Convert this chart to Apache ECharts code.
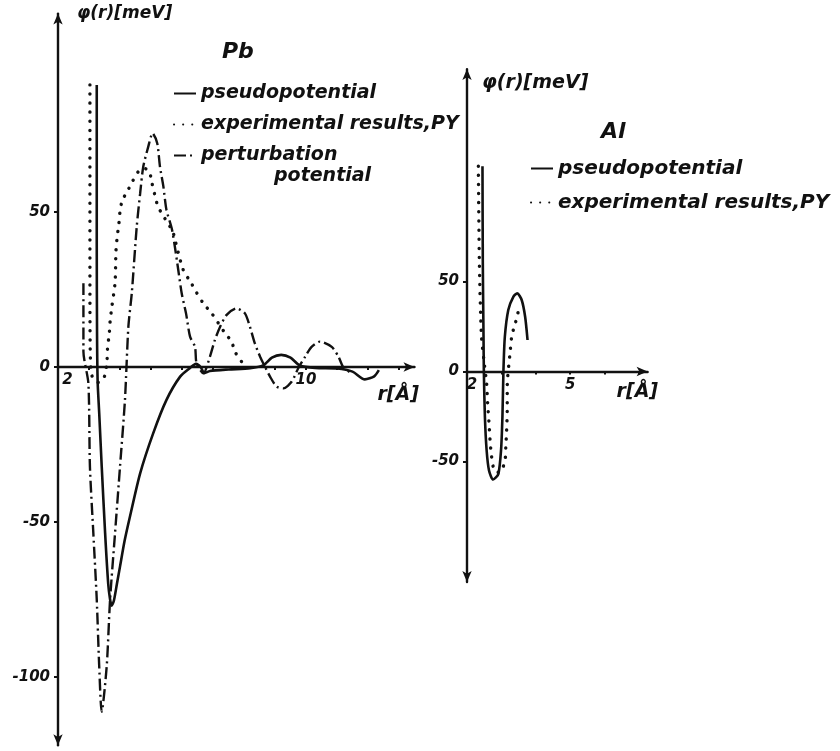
<!DOCTYPE html>
<html>
<head>
<meta charset="utf-8">
<script src="https://cdn.jsdelivr.net/npm/echarts@6/dist/echarts.min.js"></script>
<style>html,body{margin:0;padding:0;background:#fff}#c{width:840px;height:751px}</style>
</head>
<body>
<div id="c"></div>
<script>
// ---------- data (r in Å, φ in meV) ----------
const pbPseudo = [[3.25,91],[3.25,40],[3.26,10],[3.28,-5],[3.33,-15],[3.41,-32],[3.52,-53.6],[3.62,-70],[3.68,-75],[3.73,-77],[3.8,-75.5],[3.9,-70],[4.0,-64.4],[4.15,-56],[4.32,-48.3],[4.65,-34.3],[5.07,-21.4],[5.5,-10.6],[5.94,-3.1],[6.26,-0.3],[6.45,1],[6.6,0],[6.72,-2],[6.9,-1.3],[7.5,-0.8],[8.2,-0.4],[8.62,0.5],[8.9,3],[9.2,3.9],[9.5,3],[9.8,0.5],[10.3,-0.3],[11.0,-0.5],[11.5,-1.5],[11.9,-4],[12.2,-3],[12.35,-1]];
const pbExperiment = [[3.03,91],[3.03,60],[3.03,30],[3.04,5],[3.1,-3],[3.3,-5],[3.5,-3],[3.58,2],[3.6,6.5],[3.65,10.3],[3.68,14.6],[3.73,18.9],[3.84,27.2],[3.87,37.4],[3.91,42],[3.96,45.8],[4.0,50.1],[4.07,53.6],[4.27,57.3],[4.41,60],[4.59,63],[4.8,64],[4.94,63.3],[5.02,59.8],[5.11,56],[5.22,51.9],[5.38,49],[5.7,43.7],[5.83,38.8],[6.04,31.3],[6.29,27.2],[6.47,24],[6.69,20.5],[6.96,17.3],[7.39,10.9],[7.6,8.2],[7.71,4.9],[7.96,1.2]];
const pbPerturbation = [[2.82,27],[2.82,5],[2.98,-5.3],[3.03,-32.2],[3.14,-53.6],[3.25,-75],[3.33,-96.7],[3.41,-111.2],[3.57,-96.7],[3.68,-75],[3.84,-53.6],[4.0,-32.2],[4.16,-10.6],[4.27,13],[4.38,23.8],[4.54,45.3],[4.65,56],[4.75,64.6],[4.91,71],[5.05,75.4],[5.2,72.2],[5.29,64.6],[5.4,58.2],[5.5,50.6],[5.67,44.7],[5.77,38.8],[5.88,31.3],[5.99,23.8],[6.13,17.3],[6.26,9.8],[6.42,6.5],[6.47,1.2],[6.69,-2],[6.9,3.3],[7.06,8.7],[7.23,13],[7.44,16.8],[7.76,18.9],[8.03,17.3],[8.19,13],[8.35,7.6],[8.52,3.3],[8.62,1.2],[8.84,-3.1],[9.05,-6.3],[9.27,-6.9],[9.54,-4.7],[9.75,-0.4],[9.97,3.3],[10.18,6.5],[10.45,8.2],[10.83,6.5],[11.05,3.3],[11.2,0],[11.47,-2]];
const alPseudo = [[2.45,114],[2.46,60],[2.48,20],[2.49,0],[2.52,-25],[2.57,-43.6],[2.64,-55],[2.76,-60],[2.91,-57],[2.99,-43.6],[3.03,-25],[3.06,0.8],[3.10,19.3],[3.20,34.2],[3.35,41.6],[3.46,43.4],[3.59,39.7],[3.69,30.4],[3.76,17.5]];
const alExperiment = [[2.33,114],[2.36,60],[2.42,20],[2.5,5],[2.57,-6.6],[2.60,-17.5],[2.64,-28.6],[2.67,-38],[2.70,-45],[2.76,-52.9],[2.81,-55.6],[2.95,-56],[3.10,-50],[3.13,-40.8],[3.15,-33.4],[3.17,-21.4],[3.17,-10.3],[3.18,-3.8],[3.25,10.1],[3.30,19.3],[3.40,26.8],[3.47,30.4],[3.49,36]];
const pbYTicks = [-100,-50,0,50];
const pbXTicks = [3,4,5,6,7,8,9,10,11,12,13];
const pbXLabels = [2,10];
const alYTicks = [-50,0,50];
const alXTicks = [3,4,5,6,7];
const alXLabels = [2,5];
const names = ['pseudopotential','experimental results,PY','perturbation potential'];

// ---------- styles ----------
const INK = '#111';
const FONT = {fontFamily:'DejaVu Sans', fontWeight:'bold', fontStyle:'italic', color:INK};
const solid = {color:INK, width:2.6, type:'solid'};
const dotted = {color:INK, width:3.4, type:[0.1,9], cap:'round'};
const dashdot = {color:INK, width:2.4, type:[12,4,2,4]};

// grids: value ranges chosen so that the zero line sits where the original puts it
const pbGrid = {left:58, top:13.6, width:356.5, height:731.6, yMin:-122, yMax:114};
const alGrid = {left:467, top:69.1, width:180.6, height:513, yMin:-117, yMax:168};
function zeroOffset(g){ return -g.height * (0 - g.yMin) / (g.yMax - g.yMin); }

function xAx(gi, g, min, max, ticks, labels, shift, nameGap, namePad){
  return {type:'value', gridIndex:gi, min:min, max:max, position:'bottom', offset:zeroOffset(g),
    name:'r[Å]', nameLocation:'end', nameGap:nameGap,
    nameTextStyle:Object.assign({fontSize:19, align:'left', verticalAlign:'top', padding:[namePad,0,0,0]}, FONT),
    axisLine:{onZero:false, lineStyle:{color:INK, width:2.4}, symbol:['none','arrow'], symbolSize:[7,11]},
    axisTick:{show:true, customValues:ticks, length:3, lineStyle:{color:INK, width:2}},
    axisLabel:{customValues:labels, margin:6, formatter:function(v){return v===2?'{l|2}':String(v);},
      rich:{l:Object.assign({fontSize:15, padding:[0,0,0,shift]}, FONT)}, fontSize:15, fontFamily:FONT.fontFamily, fontWeight:'bold', fontStyle:'italic', color:INK},
    splitLine:{show:false}};
}
function yAx(gi, g, ticks, nameGap, namePad, nameSize){
  return {type:'value', gridIndex:gi, min:g.yMin, max:g.yMax, name:'φ(r)[meV]', nameLocation:'end', nameGap:nameGap,
    nameTextStyle:Object.assign({fontSize:nameSize, align:'left', verticalAlign:'middle', padding:[0,0,0,namePad]}, FONT),
    axisLine:{lineStyle:{color:INK, width:2.4}, symbol:['arrow','arrow'], symbolSize:[7,11]},
    axisTick:{show:true, customValues:ticks, length:4, lineStyle:{color:INK, width:2}},
    axisLabel:Object.assign({customValues:ticks, margin:8, fontSize:15}, FONT),
    splitLine:{show:false}};
}
function ser(name, data, style, xi){
  return {type:'line', name:name, data:data, xAxisIndex:xi, yAxisIndex:xi, symbol:'none', showSymbol:false,
    smooth:0.25, lineStyle:style, itemStyle:{color:INK}, z:3, animation:false};
}
const legendText = Object.assign({fontSize:19, lineHeight:21}, FONT);
const hiddenSymbol = {color:'rgba(0,0,0,0)', borderColor:'rgba(0,0,0,0)', borderWidth:0, opacity:0};

const chart = echarts.init(document.getElementById('c'), null, {renderer:'canvas'});
chart.setOption({
  backgroundColor:'#fff',
  animation:false,
  title:[
    {text:'Pb', left:217, top:36, textStyle:Object.assign({fontSize:22}, FONT)},
    {text:'Al', left:596, top:116, textStyle:Object.assign({fontSize:22}, FONT)}
  ],
  legend:[
    {orient:'vertical', left:173, top:83, itemWidth:22, itemHeight:14, itemGap:10, padding:0,
     itemStyle:hiddenSymbol,
     data:[names[0], names[1], {name:names[2], textStyle:{padding:[0,0,-21,0]}}],
     formatter:function(n){return n===names[2]?'{a|perturbation}\n{b|potential}':n;},
     textStyle:Object.assign({}, legendText, {rich:{a:Object.assign({fontSize:19, lineHeight:21}, FONT), b:Object.assign({fontSize:19, lineHeight:21, padding:[0,0,0,73]}, FONT)}}),
     selectedMode:false},
    {orient:'vertical', left:530, top:158, itemWidth:22, itemHeight:14, itemGap:13, padding:0,
     itemStyle:hiddenSymbol,
     data:[names[0], names[1]],
     textStyle:Object.assign({}, legendText, {fontSize:20}),
     selectedMode:false}
  ],
  grid:[
    {left:pbGrid.left, top:pbGrid.top, width:pbGrid.width, height:pbGrid.height},
    {left:alGrid.left, top:alGrid.top, width:alGrid.width, height:alGrid.height}
  ],
  xAxis:[
    xAx(0, pbGrid, 2, 13.5, pbXTicks, pbXLabels, 19, -37, 19),
    xAx(1, alGrid, 2, 7.25, alXTicks, alXLabels, 10, -31, 11)
  ],
  yAxis:[
    yAx(0, pbGrid, pbYTicks, 0, 19, 17),
    yAx(1, alGrid, alYTicks, -14, 15, 19)
  ],
  series:[
    ser(names[0], pbPseudo, solid, 0),
    ser(names[1], pbExperiment, dotted, 0),
    ser(names[2], pbPerturbation, dashdot, 0),
    ser(names[0], alPseudo, solid, 1),
    ser(names[1], alExperiment, dotted, 1)
  ]
});
</script>
</body>
</html>
